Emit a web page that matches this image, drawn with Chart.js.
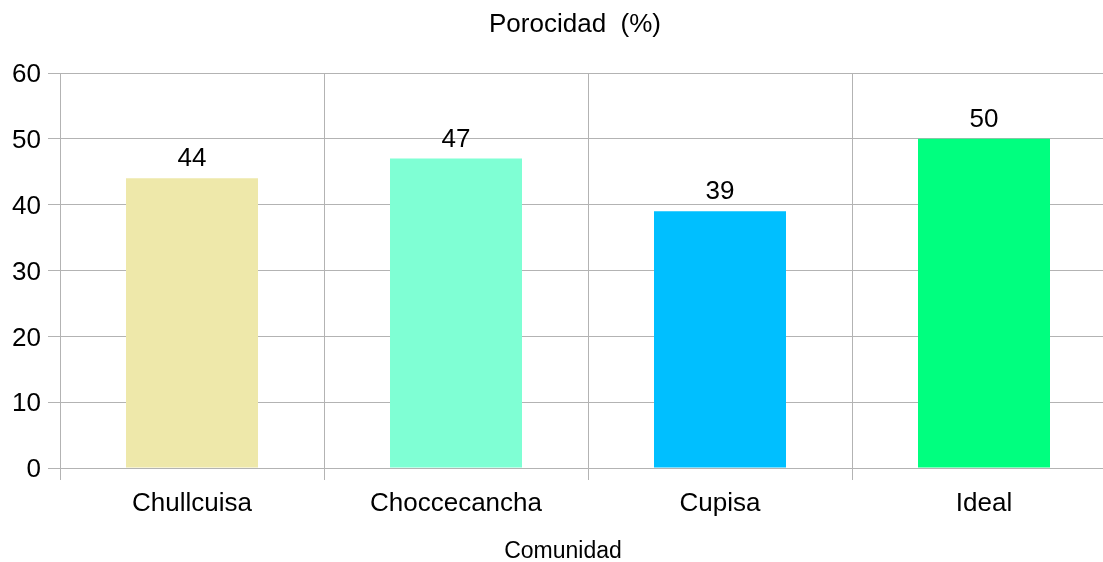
<!DOCTYPE html>
<html>
<head>
<meta charset="utf-8">
<script src="https://cdn.jsdelivr.net/npm/chart.js@4"></script>
<style>
  html, body { margin: 0; padding: 0; background: #fff; overflow: hidden; }
  #wrap { width: 1103px; height: 562px; overflow: hidden; }
</style>
</head>
<body>
<div id="wrap">
  <canvas id="grafico" width="1116" height="562"></canvas>
</div>
<script>
const titulo = 'Porocidad  (%)';
const tituloEje = 'Comunidad';
const comunidades = ['Chullcuisa', 'Choccecancha', 'Cupisa', 'Ideal'];
const porosidad = [44, 47, 39, 50];
const colores = ['#eee8aa', '#7fffd4', '#00bfff', '#00ff7f'];

const fuente = 'Liberation Sans, Arial, sans-serif';
const gris = '#b3b3b3';

// valores encima de cada barra
const etiquetasBarras = {
  id: 'etiquetasBarras',
  afterDatasetsDraw(chart) {
    const ctx = chart.ctx;
    const meta = chart.getDatasetMeta(0);
    ctx.save();
    ctx.font = '26px ' + fuente;
    ctx.fillStyle = '#000';
    ctx.textAlign = 'center';
    ctx.textBaseline = 'alphabetic';
    meta.data.forEach((bar, i) => {
      ctx.fillText(String(porosidad[i]), bar.x, bar.y - 12);
    });
    ctx.restore();
  }
};

// titulo del grafico y del eje x
const titulos = {
  id: 'titulos',
  afterDraw(chart) {
    const ctx = chart.ctx;
    const area = chart.chartArea;
    const centro = (area.left + area.right) / 2;
    ctx.save();
    ctx.fillStyle = '#000';
    ctx.textAlign = 'center';
    ctx.textBaseline = 'middle';
    ctx.font = '26px ' + fuente;
    ctx.fillText(titulo, centro - 13, 25);
    ctx.font = '23px ' + fuente;
    ctx.fillText(tituloEje, centro - 25, 552);
    ctx.restore();
  }
};

new Chart(document.getElementById('grafico').getContext('2d'), {
  type: 'bar',
  data: {
    labels: comunidades,
    datasets: [{
      label: titulo,
      data: porosidad,
      backgroundColor: colores,
      borderWidth: 0,
      categoryPercentage: 1,
      barPercentage: 0.5
    }]
  },
  options: {
    responsive: false,
    animation: false,
    layout: { padding: { left: 0, right: 0, top: 73, bottom: 0 } },
    plugins: {
      legend: { display: false },
      tooltip: { enabled: false },
      title: { display: false }
    },
    scales: {
      x: {
        afterFit(scale) { scale.height = 94; },
        grid: { color: gris, lineWidth: 1, tickLength: 12, offset: true },
        border: { color: gris },
        ticks: {
          color: '#000',
          font: { family: fuente, size: 26 },
          padding: 8,
          maxRotation: 0
        }
      },
      y: {
        min: 0,
        max: 60,
        afterFit(scale) { scale.width = 60; },
        grid: { color: gris, lineWidth: 1, tickLength: 12 },
        border: { color: gris },
        ticks: {
          stepSize: 10,
          color: '#000',
          font: { family: fuente, size: 26 },
          padding: 7,
          labelOffset: 2
        }
      }
    }
  },
  plugins: [etiquetasBarras, titulos]
});
</script>
</body>
</html>
